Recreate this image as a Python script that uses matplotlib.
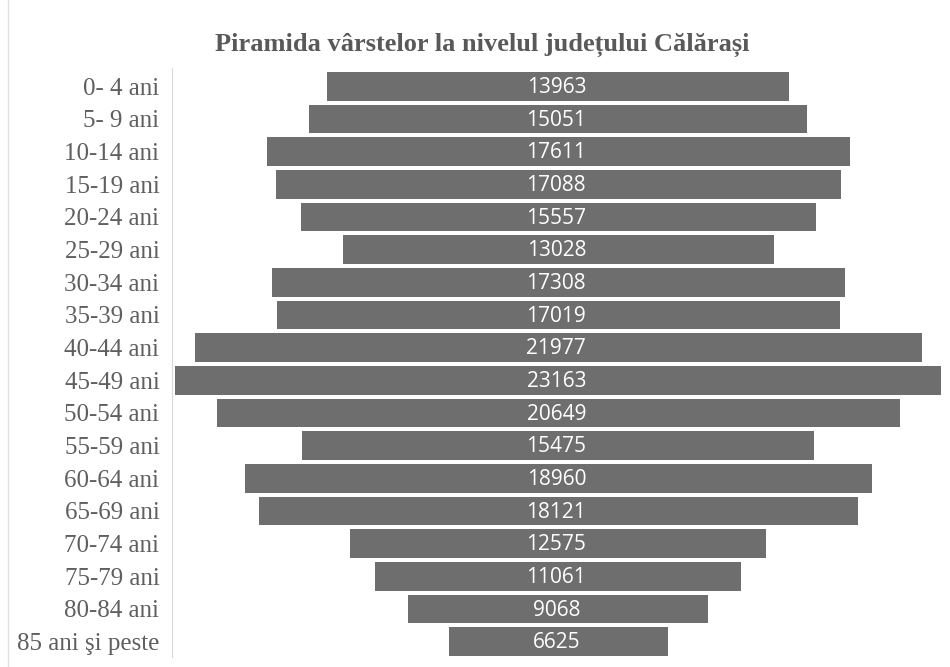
import matplotlib.pyplot as plt
import numpy as np

# age groups and population counts
groups = ['0- 4 ani', '5- 9 ani', '10-14 ani', '15-19 ani', '20-24 ani', '25-29 ani',
          '30-34 ani', '35-39 ani', '40-44 ani', '45-49 ani', '50-54 ani', '55-59 ani',
          '60-64 ani', '65-69 ani', '70-74 ani', '75-79 ani', '80-84 ani', '85 ani şi peste']
values = [13963, 15051, 17611, 17088, 15557, 13028, 17308, 17019, 21977,
          23163, 20649, 15475, 18960, 18121, 12575, 11061, 9068, 6625]

vals = np.array(values)
pos = np.arange(len(groups))

fig = plt.figure(figsize=(9.5, 6.67), dpi=100)
ax = fig.add_axes([172/950, 10/667, 776/950, 589/667])

# centred bars: start at -v/2
ax.barh(pos, vals, left=-vals/2, height=0.88, color='#6e6e6e')
for p, v in zip(pos, vals):
    ax.text(-60, p + 0.04, str(v), ha='center', va='center', color='white',
            fontsize=15, family='Open Sans')

ax.set_xlim(-11680, 11780)
ax.set_ylim(17.47, -0.56)
ax.set_yticks(pos)
ax.set_yticklabels(groups, family='Liberation Serif', fontsize=18, color='#5f5f5f')
ax.tick_params(axis='y', length=0, pad=9)
ax.set_xticks([])
for s in ['top', 'right', 'bottom']:
    ax.spines[s].set_visible(False)
ax.spines['left'].set_color('#d9d9d9')

fig.text(0.508, 0.933, 'Piramida vârstelor la nivelul județului Călărași',
         ha='center', va='center', family='Liberation Serif', fontweight='bold',
         fontsize=19, color='#595959')

# faint frame line at the far left
fig.add_artist(plt.Line2D([8/950, 8/950], [0, 1], color='#e0e0e0', lw=1))

fig.savefig('out.png', dpi=100)
